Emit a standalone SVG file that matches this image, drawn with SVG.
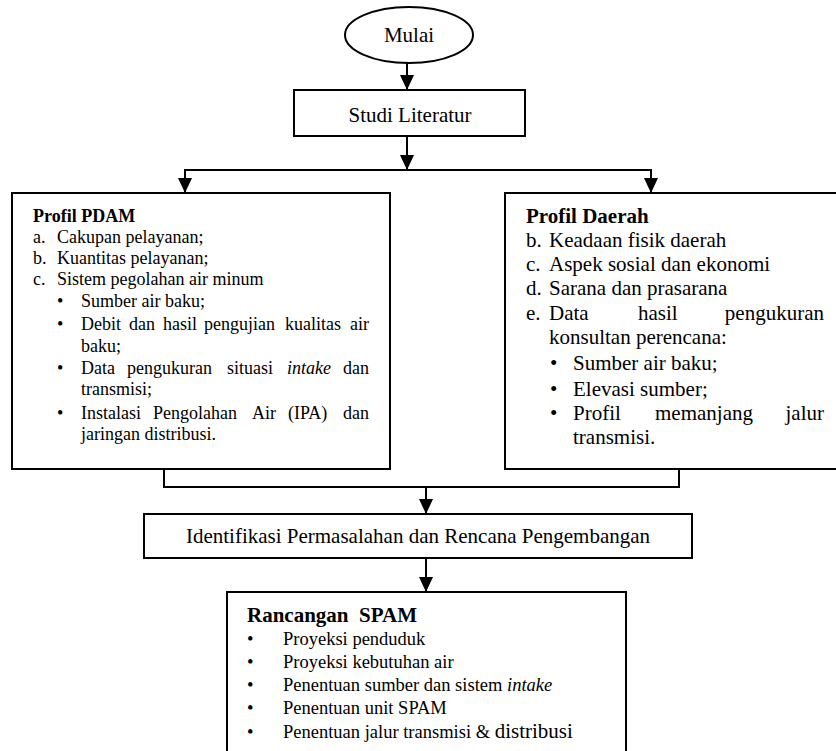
<svg xmlns="http://www.w3.org/2000/svg" width="836" height="751" viewBox="0 0 836 751">
<style>
text{font-family:"Liberation Serif","Times New Roman",serif;fill:#000}
.s18{font-size:18px}
.s21{font-size:21px}
.r{font-size:18.5px}
.b{font-weight:bold}
.box{fill:#fff;stroke:#000;stroke-width:2}
.ln{fill:none;stroke:#000;stroke-width:2}
</style>
<defs>
<marker id="ah" markerUnits="userSpaceOnUse" markerWidth="16" markerHeight="14" refX="15" refY="7" orient="auto">
<path d="M0,0 L15,7 L0,14 Z" fill="#000"/>
</marker>
</defs>
<rect width="836" height="751" fill="#fff"/>
<g id="connectors">
<line class="ln" x1="407" y1="63" x2="407" y2="90" marker-end="url(#ah)"/>
<line class="ln" x1="407" y1="136" x2="407" y2="170" marker-end="url(#ah)"/>
<polyline class="ln" points="185,193 185,170 651,170 651,193"/>
<line class="ln" x1="185" y1="172" x2="185" y2="193" marker-end="url(#ah)"/>
<line class="ln" x1="651" y1="172" x2="651" y2="193" marker-end="url(#ah)"/>
<polyline class="ln" points="164,469 164,487 679,487 679,469"/>
<line class="ln" x1="426" y1="487" x2="426" y2="514" marker-end="url(#ah)"/>
<line class="ln" x1="426" y1="558" x2="426" y2="592" marker-end="url(#ah)"/>
</g>
<g id="mulai">
<ellipse class="box" cx="409" cy="35" rx="64" ry="28"/>
<text class="s21" x="409" y="42" text-anchor="middle">Mulai</text>
</g>
<g id="studi">
<rect class="box" x="294" y="90" width="231" height="46"/>
<text class="s21" x="410" y="122" text-anchor="middle">Studi Literatur</text>
</g>
<g id="profil-pdam">
<rect class="box" x="12" y="193" width="378" height="276"/>
<text class="s18 b" x="33" y="222">Profil PDAM</text>
<text class="s18" x="33" y="243">a.</text><text class="s18" x="57" y="243">Cakupan pelayanan;</text>
<text class="s18" x="33" y="264">b.</text><text class="s18" x="57" y="264">Kuantitas pelayanan;</text>
<text class="s18" x="33" y="285">c.</text><text class="s18" x="57" y="285">Sistem pegolahan air minum</text>
<text class="s18" x="57" y="307">•</text><text class="s18" x="81" y="307">Sumber air baku;</text>
<text class="s18" x="57" y="330">•</text>
<text class="s18" y="330"><tspan x="81">Debit</tspan><tspan x="129">dan</tspan><tspan x="163">hasil</tspan><tspan x="204">pengujian</tspan><tspan x="285">kualitas</tspan></text>
<text class="s18" x="369" y="330" text-anchor="end">air</text>
<text class="s18" x="81" y="352">baku;</text>
<text class="s18" x="57" y="374">•</text>
<text class="s18" y="374"><tspan x="81">Data</tspan><tspan x="127">pengukuran</tspan><tspan x="227">situasi</tspan><tspan x="287" font-style="italic">intake</tspan></text>
<text class="s18" x="369" y="374" text-anchor="end">dan</text>
<text class="s18" x="81" y="395">transmisi;</text>
<text class="s18" x="57" y="419">•</text>
<text class="s18" y="419"><tspan x="81">Instalasi</tspan><tspan x="153">Pengolahan</tspan><tspan x="252">Air</tspan><tspan x="288">(IPA)</tspan></text>
<text class="s18" x="369" y="419" text-anchor="end">dan</text>
<text class="s18" x="81" y="440">jaringan distribusi.</text>
</g>
<g id="profil-daerah">
<rect class="box" x="505" y="193" width="345" height="276"/>
<text class="s21 b" x="526" y="223">Profil Daerah</text>
<text class="s21" x="526" y="247">b.</text><text class="s21" x="549" y="247">Keadaan fisik daerah</text>
<text class="s21" x="526" y="271">c.</text><text class="s21" x="549" y="271">Aspek sosial dan ekonomi</text>
<text class="s21" x="526" y="295">d.</text><text class="s21" x="549" y="295">Sarana dan prasarana</text>
<text class="s21" x="526" y="320">e.</text>
<text class="s21" y="320"><tspan x="549">Data</tspan><tspan x="638">hasil</tspan></text>
<text class="s21" x="824" y="320" text-anchor="end">pengukuran</text>
<text class="s21" x="549" y="344">konsultan perencana:</text>
<text class="s21" x="550" y="370">•</text><text class="s21" x="573" y="370">Sumber air baku;</text>
<text class="s21" x="550" y="396">•</text><text class="s21" x="573" y="396">Elevasi sumber;</text>
<text class="s21" x="550" y="420">•</text>
<text class="s21" y="420"><tspan x="573">Profil</tspan><tspan x="655">memanjang</tspan></text>
<text class="s21" x="824" y="420" text-anchor="end">jalur</text>
<text class="s21" x="573" y="444">transmisi.</text>
</g>
<g id="identifikasi">
<rect class="box" x="144" y="514" width="548" height="44"/>
<text class="s21" x="418" y="543" text-anchor="middle">Identifikasi Permasalahan dan Rencana Pengembangan</text>
</g>
<g id="rancangan">
<rect class="box" x="227" y="592" width="399" height="175"/>
<text class="s21 b" x="247" y="622" xml:space="preserve">Rancangan  SPAM</text>
<text class="r" x="247" y="645">•</text><text class="r" x="283" y="645">Proyeksi penduduk</text>
<text class="r" x="247" y="668">•</text><text class="r" x="283" y="668">Proyeksi kebutuhan air</text>
<text class="r" x="247" y="691">•</text><text class="r" x="283" y="691">Penentuan sumber dan sistem <tspan font-style="italic">intake</tspan></text>
<text class="r" x="247" y="714">•</text><text class="r" x="283" y="714">Penentuan unit SPAM</text>
<text class="r" x="247" y="738">•</text><text class="r" x="283" y="738">Penentuan jalur transmisi &amp; <tspan font-size="21px">distribusi</tspan></text>
</g>
</svg>
